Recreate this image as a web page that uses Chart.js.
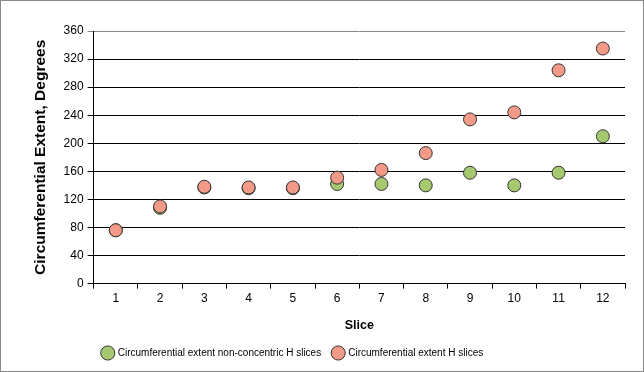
<!DOCTYPE html>
<html lang="en">
<head>
  <meta charset="UTF-8" />
  <title>Circumferential Extent by Slice</title>
  <script src="https://cdn.jsdelivr.net/npm/chart.js"></script>
  <style>
    body { margin: 0; background: #fff; }
    .wrap { width: 642px; height: 370px; border: 1px solid #888; }
    canvas { display: block; }
  </style>
</head>
<body>
  <div class="wrap"><canvas id="chart" width="642" height="370"></canvas></div>

  <script>
    const slices = ["1", "2", "3", "4", "5", "6", "7", "8", "9", "10", "11", "12"];
    const nonConcentric = [76, 108, 137, 136, 136, 142, 142, 140, 158, 140, 158, 210];
    const hSlices = [76, 110, 138, 137, 137, 151, 162, 186, 234, 244, 304, 335];
    const yTicks = [0, 40, 80, 120, 160, 200, 240, 280, 320, 360];

    const family = "Arial, 'Liberation Sans', sans-serif";

    // the legend in the original sits a little left of centre
    const legendShift = {
      id: "legendShift",
      afterLayout(chart) {
        if (chart.legend) chart.legend.right -= 66;
      }
    };

    new Chart(document.getElementById("chart"), {
      type: "line",
      data: {
        labels: slices,
        datasets: [
          {
            label: "Circumferential extent non-concentric H slices",
            data: nonConcentric,
            order: 2,
            showLine: false,
            pointRadius: 6.5,
            pointBorderWidth: 1,
            pointBackgroundColor: "#a6c970",
            pointBorderColor: "#333",
            backgroundColor: "#a6c970",
            borderColor: "#333"
          },
          {
            label: "Circumferential extent H slices",
            data: hSlices,
            order: 1,
            showLine: false,
            pointRadius: 6.5,
            pointBorderWidth: 1,
            pointBackgroundColor: "#f29a87",
            pointBorderColor: "#333",
            backgroundColor: "#f29a87",
            borderColor: "#333"
          }
        ]
      },
      plugins: [legendShift],
      options: {
        responsive: false,
        animation: false,
        layout: { padding: { top: 30, right: 18, left: 26, bottom: 3 } },
        plugins: {
          tooltip: { enabled: false },
          legend: {
            position: "bottom",
            labels: {
              usePointStyle: true,
              pointStyle: "circle",
              boxWidth: 12,
              boxHeight: 12,
              padding: 12,
              color: "#000",
              font: { family: family, size: 10 },
              generateLabels: chart => chart.data.datasets.map((ds, i) => ({
                text: ds.label,
                fillStyle: ds.pointBackgroundColor,
                strokeStyle: "#333",
                lineWidth: 1,
                pointStyle: "circle",
                datasetIndex: i,
                fontColor: "#000"
              }))
            }
          }
        },
        scales: {
          x: {
            offset: true,
            grid: {
              offset: true,
              drawOnChartArea: false,
              color: "#000",
              tickLength: 5
            },
            border: { color: "#000" },
            ticks: { color: "#000", font: { family: family, size: 12 }, padding: 3 },
            title: {
              display: true,
              text: "Slice",
              color: "#000",
              font: { family: family, size: 12.5, weight: "bold" },
              padding: { top: 9, bottom: 3 }
            }
          },
          y: {
            min: 0,
            max: 360,
            afterBuildTicks: axis => { axis.ticks = yTicks.map(v => ({ value: v })); },
            grid: {
              color: ctx => ctx.tick && ctx.tick.value === 360 ? "#888" : "#000",
              tickLength: 6
            },
            border: { color: "#000" },
            ticks: { color: "#000", font: { family: family, size: 12 }, padding: 4 },
            title: {
              display: true,
              text: "Circumferential Extent, Degrees",
              color: "#000",
              font: { family: family, size: 15.5, weight: "bold" },
              padding: { bottom: 10 }
            }
          }
        }
      }
    });
  </script>
</body>
</html>
